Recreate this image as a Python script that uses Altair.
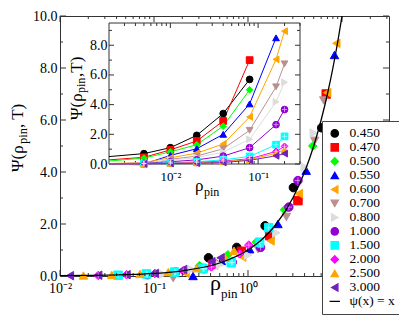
import altair as alt
import pandas as pd

# ---------------- data ----------------
temps = ["0.450", "0.470", "0.500", "0.550", "0.600", "0.700",
         "0.800", "1.000", "1.500", "2.000", "2.500", "3.000"]
colors = ["#000000", "#ff0000", "#00ff00", "#0000ff", "#ffa500", "#bc8f8f",
          "#dcdcdc", "#9400d3", "#00ffff", "#ff00ff", "#ffa500", "#7221bc"]
shapes = ["circle", "square", "diamond", "triangle-up", "triangle-left",
          "triangle-down", "triangle-right", "circle", "square", "diamond",
          "triangle-up", "triangle-left"]
hatched = ["1.000", "1.500", "2.000"]

rho = [0.005, 0.01, 0.02, 0.04, 0.08, 0.16, 0.2]
psi = {
    "0.450": [0.7, 1.1, 1.93, 3.4, 5.7],
    "0.470": [0.45, 0.95, 1.55, 2.9, 7.0],
    "0.500": [0.4, 0.82, 1.3, 2.55, 5.0],
    "0.550": [0.0, 0.58, 1.03, 2.0, 4.05, 8.5],
    "0.600": [0.1, 0.42, 0.73, 1.35, 3.17, 7.05, 8.95],
    "0.700": [-0.08, 0.32, 0.53, 1.03, 2.27, 5.2, 6.75],
    "0.800": [0.07, 0.25, 0.43, 0.8, 1.66, 4.19, 5.5],
    "1.000": [0.05, 0.15, 0.28, 0.53, 1.1, 2.65, 3.67],
    "1.500": [0.03, 0.08, 0.15, 0.28, 0.51, 1.3, 1.86],
    "2.000": [0.02, 0.05, 0.1, 0.2, 0.35, 0.85, 1.19],
    "2.500": [0.02, 0.04, 0.08, 0.15, 0.3, 0.72, 0.97],
    "3.000": [0.01, 0.03, 0.05, 0.1, 0.25, 0.55, 0.7],
}
# line start at the inset's left edge
rho_edge = 0.002
psi_edge = [0.5, 0.28, 0.2, 0.03, 0.03, 0.02, 0.02, 0.02, 0.01, 0.01, 0.01, 0.0]
# x scaling (rho_pin / rho*) per temperature for the collapsed main plot
xscale = [76, 85, 61, 52, 43.5, 32, 25, 17, 8.3, 5.1, 3.55, 2.55]

curve_x = [0.01, 0.02, 0.05, 0.1, 0.2, 0.5, 1, 1.5, 2, 3, 4, 5, 6, 7, 8, 9, 10]
line_label = "ψ(x) = x"

main_xmaj = [0.01, 0.1, 1, 10]
main_xmin = [0.02, 0.03, 0.04, 0.05, 0.06, 0.07, 0.08, 0.09,
             0.2, 0.3, 0.4, 0.5, 0.6, 0.7, 0.8, 0.9,
             2, 3, 4, 5, 6, 7, 8, 9, 20, 30]
main_ymaj = [0, 2, 4, 6, 8, 10]
main_ymin = [1, 3, 5, 7, 9]
ins_xmaj = [0.01, 0.1]
ins_xmin = [0.003, 0.004, 0.005, 0.006, 0.007, 0.008, 0.009,
            0.02, 0.03, 0.04, 0.05, 0.06, 0.07, 0.08, 0.09, 0.2, 0.3]
ins_ymaj = [0, 2, 4, 6, 8]
ins_ymin = [1, 3, 5, 7, 9]

# ---------------- tables ----------------
rows_main, rows_ins, rows_line = [], [], []
for i, t in enumerate(temps):
    vals = psi[t]
    rows_line.append({"T": t, "x": rho_edge, "y": psi_edge[i]})
    for r, v in zip(rho, vals):
        rows_main.append({"T": t, "x": r * xscale[i], "y": v})
        rows_ins.append({"T": t, "x": r, "y": v})
        rows_line.append({"T": t, "x": r, "y": v})
df_main = pd.DataFrame(rows_main)
df_ins = pd.DataFrame(rows_ins)
df_line = pd.DataFrame(rows_line)
df_curve = pd.DataFrame({"x": curve_x, "y": curve_x})
df_main_h = df_main[df_main["T"].isin(hatched)]
df_ins_h = df_ins[df_ins["T"].isin(hatched)]

# ---------------- geometry ----------------
W, H = 329, 260
IX0, IX1, IY0, IY1 = 49, 240, 7, 148
FONT = "Liberation Serif"
TICK = "#333333"

dom = temps + [line_label]
col_scale = alt.Scale(domain=dom, range=colors + ["#000000"])
shp_scale = alt.Scale(domain=dom, range=shapes + ["M-1.4,0H1.4"])
stk_scale = alt.Scale(domain=dom, range=colors + ["#000000"])

legend = alt.Legend(
    title=None, orient="none", legendX=262, legendY=105,
    fillColor="white", strokeColor="#444444", padding=6,
    labelFont=FONT, labelFontSize=13.5, labelColor="black",
    symbolSize=55, symbolOpacity=1, symbolStrokeWidth=1.2,
    rowPadding=0, clipHeight=12.8, labelOffset=8,
)


def mxs():
    return alt.Scale(type="log", domain=[0.01, 31.6228], range=[0, W], nice=False)


def mys():
    return alt.Scale(domain=[0, 10], range=[H, 0], nice=False, zero=False)


def ixs():
    return alt.Scale(type="log", domain=[0.002, 0.3], range=[IX0, IX1], nice=False)


def iys():
    return alt.Scale(domain=[0, 9.5], range=[IY1, IY0], nice=False, zero=False)


xlabel_expr = ("datum.value < 0.05 ? '10⁻²' : datum.value < 0.5 ? '10⁻¹' : "
               "datum.value < 5 ? '10⁰' : '10¹'")


def xticks(vals, scale, ybot, ytop, length, width=1):
    d = pd.DataFrame({"v": vals})
    b = alt.Chart(d).mark_rule(color=TICK, strokeWidth=width).encode(
        x=alt.X("v:Q", scale=scale(), axis=None),
        y=alt.value(ybot), y2=alt.value(ybot - length))
    t = alt.Chart(d).mark_rule(color=TICK, strokeWidth=width).encode(
        x=alt.X("v:Q", scale=scale(), axis=None),
        y=alt.value(ytop), y2=alt.value(ytop + length))
    return [b, t]


def yticks(vals, scale, xl, xr, length, width=1):
    d = pd.DataFrame({"v": vals})
    l = alt.Chart(d).mark_rule(color=TICK, strokeWidth=width).encode(
        y=alt.Y("v:Q", scale=scale(), axis=None),
        x=alt.value(xl), x2=alt.value(xl + length))
    r = alt.Chart(d).mark_rule(color=TICK, strokeWidth=width).encode(
        y=alt.Y("v:Q", scale=scale(), axis=None),
        x=alt.value(xr), x2=alt.value(xr - length))
    return [l, r]


def text(s, x, y, size, angle=0):
    return alt.Chart(pd.DataFrame({"t": [s]})).mark_text(
        font=FONT, fontSize=size, color="black", align="left",
        baseline="alphabetic", angle=angle).encode(
        x=alt.value(x), y=alt.value(y), text="t:N")


def hatch(df, xs, ys, size):
    return alt.Chart(df).mark_point(
        shape="M-0.75,0H0.75M0,-0.75V0.75", filled=False, size=size,
        color="white", opacity=0.65, strokeWidth=0.8).encode(
        x=alt.X("x:Q", scale=xs(), axis=None), y=alt.Y("y:Q", scale=ys(), axis=None))


def ax(**kw):
    base = dict(ticks=False, domain=False, grid=False, title=None, labelFont=FONT,
                labelColor="black", labelFlush=False, labelOverlap=False)
    base.update(kw)
    return alt.Axis(**base)


# ---------------- main plot ----------------
main_pts = alt.Chart(df_main).mark_point(filled=True, size=72, opacity=1, strokeWidth=1).encode(
    x=alt.X("x:Q", scale=mxs(), axis=ax(orient="bottom", values=[0.01, 0.1, 1],
                                       labelExpr=xlabel_expr, labelFontSize=14,
                                       labelPadding=5)),
    y=alt.Y("y:Q", scale=mys(), axis=ax(orient="left", values=main_ymaj, format=".1f",
                                       labelFontSize=14, labelPadding=3)),
    color=alt.Color("T:N", scale=col_scale, legend=legend),
    shape=alt.Shape("T:N", scale=shp_scale, legend=legend),
    stroke=alt.Stroke("T:N", scale=stk_scale, legend=legend),
)
curve = alt.Chart(df_curve).mark_line(color="black", strokeWidth=1.3, clip=True,
                                      interpolate="monotone").encode(
    x=alt.X("x:Q", scale=mxs(), axis=None), y=alt.Y("y:Q", scale=mys(), axis=None))

# ---------------- inset ----------------
frame = alt.Chart(pd.DataFrame({"a": [0]})).mark_rect(
    fill="white", stroke="#333333", strokeWidth=1).encode(
    x=alt.value(IX0), x2=alt.value(IX1), y=alt.value(IY0), y2=alt.value(IY1))
ins_lines = alt.Chart(df_line).mark_line(strokeWidth=1, clip=False).encode(
    x=alt.X("x:Q", scale=ixs(), axis=None),
    y=alt.Y("y:Q", scale=iys(), axis=None),
    stroke=alt.Stroke("T:N", scale=stk_scale, legend=None),
    order=alt.Order("x:Q"),
)
ins_pts = alt.Chart(df_ins).mark_point(filled=True, size=45, opacity=1, strokeWidth=1).encode(
    x=alt.X("x:Q", scale=ixs(), axis=ax(orient="bottom", offset=-(H - IY1),
                                       values=ins_xmaj, labelExpr=xlabel_expr,
                                       labelFontSize=13, labelPadding=6)),
    y=alt.Y("y:Q", scale=iys(), axis=ax(orient="left", offset=-IX0, values=ins_ymaj,
                                       format=".1f", labelFontSize=14, labelPadding=2)),
    color=alt.Color("T:N", scale=col_scale, legend=legend),
    shape=alt.Shape("T:N", scale=shp_scale, legend=legend),
    stroke=alt.Stroke("T:N", scale=stk_scale, legend=legend),
)

layers = (
    [main_pts, hatch(df_main_h, mxs, mys, 72)]
    + xticks(main_xmaj, mxs, H, 0, 6) + xticks(main_xmin, mxs, H, 0, 3)
    + yticks(main_ymaj, mys, 0, W, 6) + yticks(main_ymin, mys, 0, W, 3)
    + [curve,
       text("ρ", 150, 274, 22), text("pin", 161, 282, 13),
       text("Ψ(ρ", -37, 156, 17, 270), text("pin", -33, 128, 12.5, 270),
       text(", T)", -37, 112, 17, 270)]
    + [frame]
    + xticks(ins_xmaj, ixs, IY1, IY0, 5) + xticks(ins_xmin, ixs, IY1, IY0, 3)
    + yticks(ins_ymaj, iys, IX0, IX1, 5) + yticks(ins_ymin, iys, IX0, IX1, 3)
    + [ins_lines, ins_pts, hatch(df_ins_h, ixs, iys, 45),
       text("ρ", 135, 175, 17), text("pin", 144, 180, 12),
       text("Ψ(ρ", 22, 104, 17, 270), text("pin", 25, 77, 12, 270),
       text(",T)", 22, 61, 17, 270)]
)

chart = alt.layer(*layers).resolve_scale(
    x="independent", y="independent"
).properties(
    width=W, height=H,
    padding={"left": 52, "top": 8, "right": 10, "bottom": 42},
    autosize=alt.AutoSizeParams(type="none"),
).configure_view(stroke="#333333", strokeWidth=1)

chart.save("out.html", embed_options={"renderer": "svg", "actions": False})
